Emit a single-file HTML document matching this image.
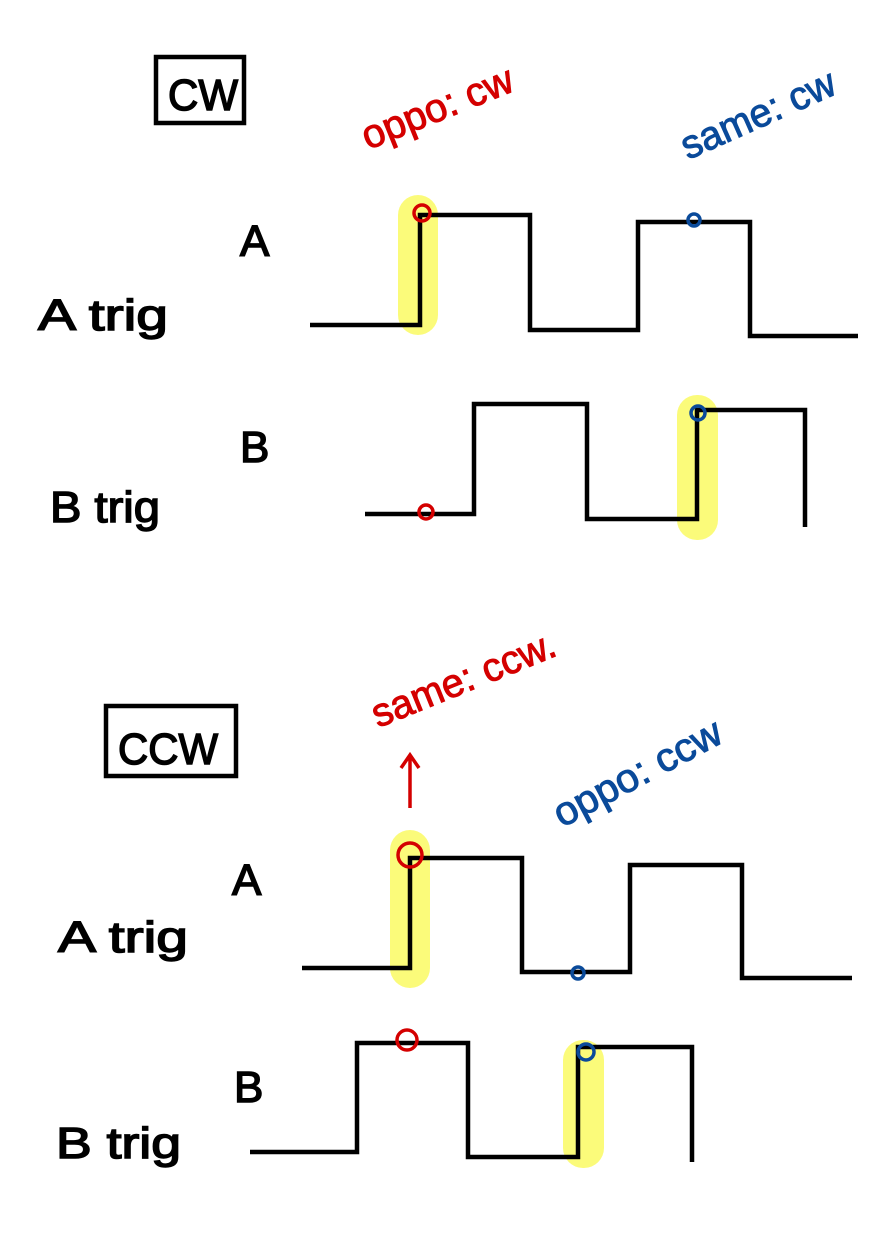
<!DOCTYPE html>
<html><head><meta charset="utf-8"><style>
html,body{margin:0;padding:0;background:#fff;}
svg{display:block;}
text{font-family:"Liberation Sans",sans-serif;}
</style></head><body>
<svg width="895" height="1233" viewBox="0 0 895 1233" xmlns="http://www.w3.org/2000/svg">
<rect width="895" height="1233" fill="#fff"/>
<g fill="#fbfb7a">
<rect x="398" y="195" width="40" height="140" rx="20"/>
<rect x="677" y="395" width="41" height="145" rx="20"/>
<rect x="390" y="830" width="40" height="158" rx="20"/>
<rect x="563" y="1040" width="41" height="128" rx="20"/>
</g>
<g fill="none" stroke="#000" stroke-width="4.5" stroke-linejoin="miter">
<rect x="156" y="57" width="88" height="66"/>
<rect x="106" y="706" width="130" height="70"/>
<polyline points="310,325 420,325 420,215 530,215 530,330 638,330 638,222 750,222 750,336 858,336"/>
<polyline points="365,514 474,514 474,404 587,404 587,519 697,519 697,410 805,410 805,527"/>
<polyline points="302,968 410,968 410,858 522,858 522,972 630,972 630,865 742,865 742,978 852,978"/>
<polyline points="250,1152 357,1152 357,1043 468,1043 468,1157 578,1157 578,1047 692,1047 692,1162"/>
</g>
<g font-size="44" fill="#000" stroke="#000" stroke-width="1.5">
<text x="168" y="110" textLength="70" lengthAdjust="spacingAndGlyphs">CW</text>
<text x="118" y="764" textLength="100" lengthAdjust="spacingAndGlyphs">CCW</text>
<text x="240" y="256">A</text>
<text x="38" y="330" textLength="130" lengthAdjust="spacingAndGlyphs">A trig</text>
<text x="240" y="462">B</text>
<text x="50" y="522" textLength="110" lengthAdjust="spacingAndGlyphs">B trig</text>
<text x="232" y="895">A</text>
<text x="58" y="952" textLength="130" lengthAdjust="spacingAndGlyphs">A trig</text>
<text x="234" y="1102">B</text>
<text x="56" y="1158" textLength="125" lengthAdjust="spacingAndGlyphs">B trig</text>
</g>
<g fill="none" stroke-width="3.5">
<circle cx="422" cy="213" r="8" stroke="#d40000"/>
<circle cx="426" cy="512" r="7" stroke="#d40000"/>
<circle cx="694" cy="220" r="6" stroke="#0a4a9a"/>
<circle cx="698" cy="413" r="7" stroke="#0a4a9a"/>
<circle cx="410" cy="855" r="12" stroke="#d40000"/>
<circle cx="407" cy="1040" r="10" stroke="#d40000"/>
<circle cx="578" cy="973" r="6" stroke="#0a4a9a"/>
<circle cx="586" cy="1052" r="8" stroke="#0a4a9a"/>
<path d="M410 808 L410 757 M401 768 L410 755 L419 768" stroke="#d40000"/>
</g>
<text x="368" y="150" font-size="40" fill="#d40000" stroke="#d40000" stroke-width="1" transform="rotate(-22 368 150)" textLength="160" lengthAdjust="spacingAndGlyphs">oppo: cw</text>
<text x="688" y="160" font-size="40" fill="#0a4a9a" stroke="#0a4a9a" stroke-width="1" transform="rotate(-24 688 160)" textLength="165" lengthAdjust="spacingAndGlyphs">same: cw</text>
<text x="378" y="728" font-size="40" fill="#d40000" stroke="#d40000" stroke-width="1" transform="rotate(-22 378 728)" textLength="195" lengthAdjust="spacingAndGlyphs">same: ccw.</text>
<text x="562" y="828" font-size="40" fill="#0a4a9a" stroke="#0a4a9a" stroke-width="1" transform="rotate(-28 562 828)" textLength="185" lengthAdjust="spacingAndGlyphs">oppo: ccw</text>
</svg>
</body></html>
